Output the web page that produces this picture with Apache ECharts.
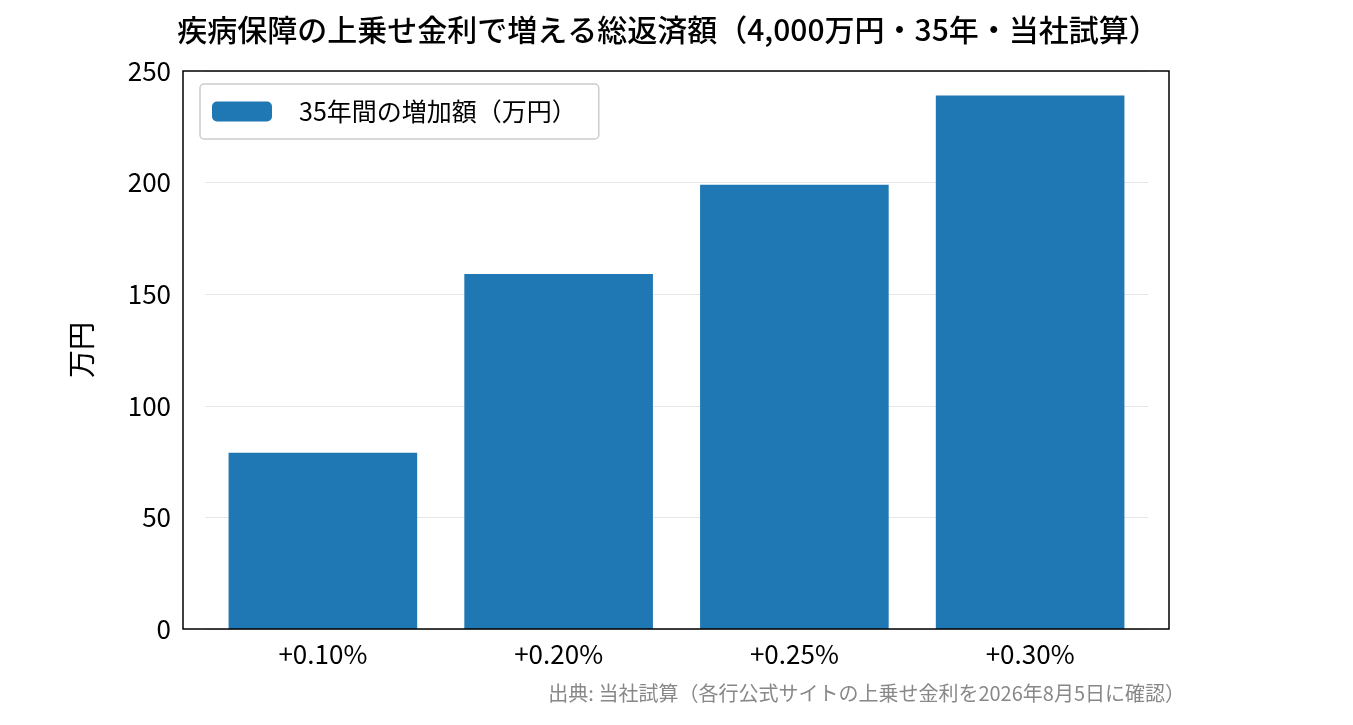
<!DOCTYPE html>
<html><head><meta charset="utf-8">
<script src="https://cdn.jsdelivr.net/npm/echarts@6/dist/echarts.min.js"></script>
<style>html,body{margin:0;padding:0;background:#fff}#c{width:1353px;height:725px}</style>
</head><body><div id="c"></div>
<script>
const categories = ['+0.10%','+0.20%','+0.25%','+0.30%'];
const values = [79, 159, 199, 239];
const yTicks = [0,50,100,150,200,250];
const F = '"Noto Sans CJK JP", sans-serif';
const chart = echarts.init(document.getElementById('c'));
chart.setOption({
  animation:false,
  textStyle:{fontFamily:F},
  title:{text:'疾病保障の上乗せ金利で増える総返済額（4,000万円・35年・当社試算）',left:663,textAlign:'center',top:10,
    textStyle:{fontFamily:F,fontSize:30,fontWeight:'500',color:'#000'}},
  legend:{left:200,top:84,itemWidth:60,itemHeight:20,padding:[15,22,15,12],itemGap:10,
    borderColor:'#ccc',borderWidth:1.5,borderRadius:4,
    textStyle:{fontFamily:F,fontSize:25,color:'#000',padding:[0,0,0,22]}},
  grid:{left:205,right:205,top:71,bottom:96},
  xAxis:{type:'category',data:categories,
    axisLine:{show:false},axisTick:{alignWithLabel:true,length:6,lineStyle:{color:'#000'}},
    axisLabel:{fontSize:26,color:'#000',margin:12,fontFamily:F}},
  yAxis:{type:'value',min:0,max:250,interval:50,name:'万円',nameLocation:'middle',nameGap:110,
    nameTextStyle:{fontSize:28,color:'#000',fontFamily:F},
    axisLine:{show:false},axisTick:{show:false},
    axisLabel:{fontSize:26,color:'#000',margin:34,fontFamily:F,formatter:v=>yTicks.includes(v)?String(v):''},
    splitLine:{lineStyle:{color:'#e6e6e6'}}},
  series:[{type:'bar',name:'35年間の増加額（万円）',data:values,barCategoryGap:'20%',itemStyle:{color:'#1f77b4'}}],
  graphic:[{type:'text',right:168,top:683,style:{text:'出典: 当社試算（各行公式サイトの上乗せ金利を2026年8月5日に確認）',font:'20px "Noto Sans CJK JP"',fill:'#888'}},
    {type:'rect',shape:{x:183,y:71,width:986,height:558},style:{fill:'none',stroke:'#000',lineWidth:1.5},silent:true,z:100}]
});
</script></body></html>
